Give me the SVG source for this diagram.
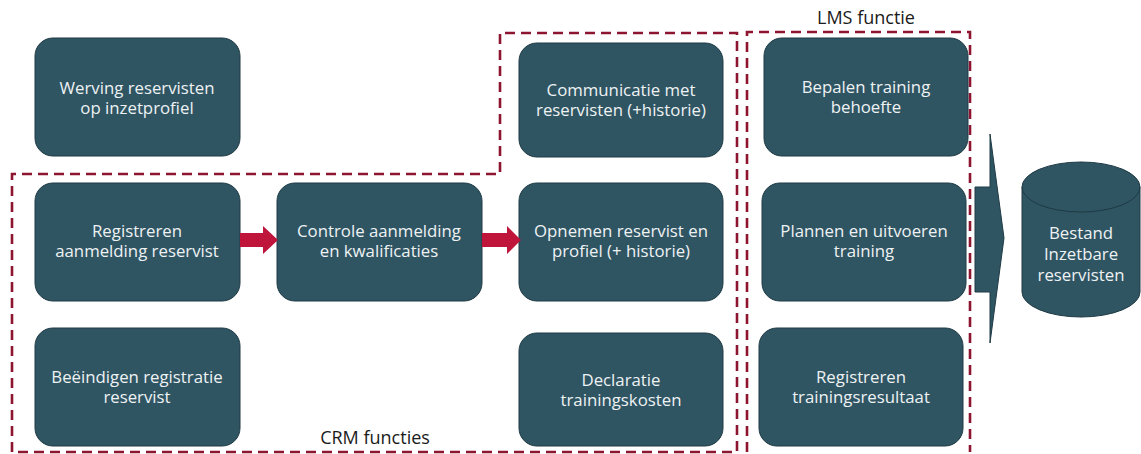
<svg xmlns="http://www.w3.org/2000/svg" width="1141" height="454" viewBox="0 0 1141 454">
<style>
.n{fill:#2f5563;stroke:#1e3a44;stroke-width:1}
.t{font-family:"Open Sans",sans-serif;font-size:16.8px;fill:#eef2f3;text-anchor:middle}
.l{font-family:"Open Sans",sans-serif;font-size:18px;fill:#1a1a1a;text-anchor:middle}
.d{fill:none;stroke:#8e1530;stroke-width:2.6;stroke-dasharray:10 6}
.a{fill:#c0153b}
</style>
<g id="boundaries">
<path class="d" d="M12,452 L12,174 L500,174 L500,33 L737,33 L737,452 Z"/>
<path class="d" d="M747,452 L747,32 L970,32 L970,452"/>
<text class="l" x="866" y="24">LMS functie</text>
<text class="l" x="375" y="444">CRM functies</text>
</g>
<g id="n1"><rect class="n" x="35" y="38" width="205" height="118" rx="18"/><text class="t" x="137" y="94">Werving reservisten</text><text class="t" x="137" y="114">op inzetprofiel</text></g>
<g id="n2"><rect class="n" x="35" y="183" width="205" height="118" rx="18"/><text class="t" x="137" y="237">Registreren</text><text class="t" x="137" y="257">aanmelding reservist</text></g>
<g id="n3"><rect class="n" x="35" y="328" width="205" height="118" rx="18"/><text class="t" x="137" y="383">Beëindigen registratie</text><text class="t" x="137" y="403">reservist</text></g>
<g id="n4"><rect class="n" x="277" y="183" width="205" height="118" rx="18"/><text class="t" x="379" y="237">Controle aanmelding</text><text class="t" x="379" y="257">en kwalificaties</text></g>
<g id="n5"><rect class="n" x="519" y="43" width="204" height="114" rx="18"/><text class="t" x="621" y="96">Communicatie met</text><text class="t" x="621" y="116">reservisten (+historie)</text></g>
<g id="n6"><rect class="n" x="519" y="183" width="204" height="118" rx="18"/><text class="t" x="621" y="237">Opnemen reservist en</text><text class="t" x="621" y="257">profiel (+ historie)</text></g>
<g id="n7"><rect class="n" x="519" y="333" width="204" height="113" rx="18"/><text class="t" x="621" y="386">Declaratie</text><text class="t" x="621" y="406">trainingskosten</text></g>
<g id="n8"><rect class="n" x="764" y="38" width="204" height="118" rx="18"/><text class="t" x="866" y="93">Bepalen training</text><text class="t" x="866" y="113">behoefte</text></g>
<g id="n9"><rect class="n" x="762" y="183" width="204" height="118" rx="18"/><text class="t" x="864" y="237">Plannen en uitvoeren</text><text class="t" x="864" y="257">training</text></g>
<g id="n10"><rect class="n" x="759" y="328" width="204" height="118" rx="18"/><text class="t" x="861" y="383">Registreren</text><text class="t" x="861" y="403">trainingsresultaat</text></g>
<g id="n11">
<path class="n" d="M1022,187 L1022,292 A59,25 0 0 0 1140,292 L1140,187"/>
<ellipse class="n" cx="1081" cy="187" rx="59" ry="25"/>
<text class="t" x="1081" y="239">Bestand</text><text class="t" x="1081" y="260">Inzetbare</text><text class="t" x="1081" y="281">reservisten</text>
</g>
<g id="connectors">
<path class="a" d="M240,233 L263,233 L263,226 L278,240 L263,254 L263,247 L240,247 Z"/>
<path class="a" d="M482,233 L507,233 L507,226 L521,240 L507,254 L507,247 L482,247 Z"/>
<path class="n" d="M975,187 L990,187 L990,134 L1004,238 L990,343 L990,292 L975,292 Z"/>
</g>
</svg>
